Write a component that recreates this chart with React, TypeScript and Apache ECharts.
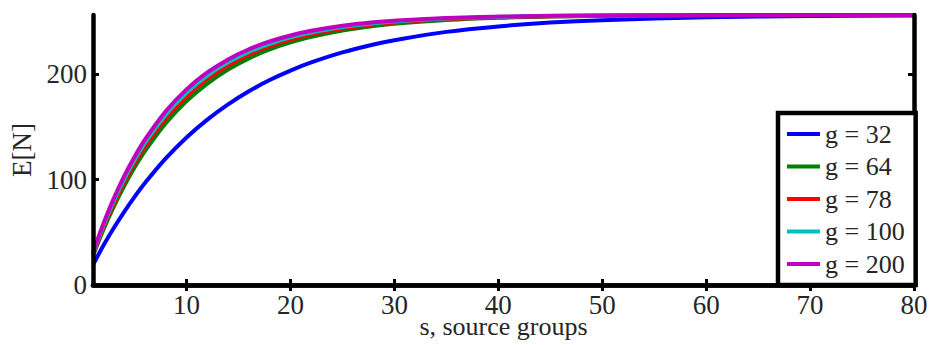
import React, { useEffect, useRef } from "react";
import * as echarts from "echarts";

const sValues = [1, 2, 3, 4, 5, 6, 8, 10, 12, 14, 16, 18, 20, 22, 25, 28, 30, 35, 40, 45, 50, 60, 70, 80];
const g32 = [19, 37.4, 54, 69.4, 83.6, 96.7, 120, 139.9, 156.8, 171.3, 183.7, 194.3, 203.3, 211, 220.5, 228, 232, 240, 245.2, 248.8, 251.1, 253.8, 255, 255.5];
const g64 = [27.6, 52.3, 74.3, 93.9, 111.4, 127.0, 153.4, 174.4, 191.0, 204.3, 214.9, 223.3, 230.0, 235.3, 241.3, 245.6, 247.7, 251.3, 253.4, 254.5, 255.2, 255.7, 255.9, 256];
const g78 = [28.9, 54.6, 77.3, 97.5, 115.5, 131.3, 157.9, 178.8, 195.3, 208.2, 218.4, 226.4, 232.7, 237.7, 243.2, 247.1, 249.0, 252.2, 253.9, 254.8, 255.4, 255.8, 255.95, 256];
const g100 = [30.0, 56.4, 79.7, 100.4, 118.6, 134.7, 161.4, 182.2, 198.5, 211.1, 221.0, 228.7, 234.8, 239.4, 244.6, 248.1, 249.9, 252.7, 254.2, 255.1, 255.5, 255.9, 256, 256];
const g200 = [31.0, 58.2, 82.1, 103.2, 121.7, 137.9, 164.8, 185.5, 201.5, 213.9, 223.5, 230.9, 236.6, 241.0, 245.8, 249.1, 250.6, 253.2, 254.5, 255.2, 255.6, 255.9, 256, 256];

const seriesNames = ["g = 32", "g = 64", "g = 78", "g = 100", "g = 200"];
const seriesColors = ["#0000ff", "#008000", "#ff0000", "#00bfbf", "#bf00bf"];
const seriesData = [g32, g64, g78, g100, g200];

const xTicks = [10, 20, 30, 40, 50, 60, 70, 80];
const yTicks = [0, 100, 200];
const xMin = 1;
const xMax = 80;
const yMin = 0;
const yMax = 256;

const FONT = "'Liberation Serif', 'Times New Roman', 'DejaVu Serif', serif";
const TEXT_COLOR = "#262626";

export default function App() {
  const ref = useRef<HTMLDivElement>(null);
  useEffect(() => {
    if (!ref.current) return;
    const chart = echarts.init(ref.current, null, { renderer: "svg" });
    const axisLine = { show: true, lineStyle: { color: "#000", width: 4.5 } };
    const tick = (vals: number[]) => ({
      show: true,
      inside: true,
      length: 6,
      customValues: vals,
      lineStyle: { color: "#000", width: 3 },
    });
    const option: any = {
      animation: false,
      backgroundColor: "#fff",
      textStyle: { fontFamily: FONT },
      grid: {
        left: 93,
        right: 17,
        top: 15,
        bottom: 60,
        containLabel: false,
        outerBoundsMode: "none",
      },
      xAxis: [
        {
          type: "value",
          min: xMin,
          max: xMax,
          position: "bottom",
          z: 10,
          axisLine,
          axisTick: tick(xTicks),
          splitLine: { show: false },
          axisLabel: {
            customValues: xTicks,
            margin: 6,
            fontFamily: FONT,
            fontSize: 27,
            color: TEXT_COLOR,
          },
          name: "s, source groups",
          nameLocation: "middle",
          nameGap: 28,
          nameMoveOverlap: false,
          nameTextStyle: { fontFamily: FONT, fontSize: 26, color: TEXT_COLOR },
        },
        {
          type: "value",
          min: xMin,
          max: xMax,
          position: "top",
          z: 10,
          axisLine,
          axisTick: tick(xTicks),
          splitLine: { show: false },
          axisLabel: { show: false },
        },
      ],
      yAxis: [
        {
          type: "value",
          min: yMin,
          max: yMax,
          position: "left",
          z: 10,
          axisLine,
          axisTick: tick(yTicks),
          splitLine: { show: false },
          axisLabel: {
            customValues: yTicks,
            margin: 6,
            fontFamily: FONT,
            fontSize: 27,
            color: TEXT_COLOR,
          },
          name: "E[N]",
          nameLocation: "middle",
          nameGap: 53,
          nameRotate: 90,
          nameTextStyle: { fontFamily: FONT, fontSize: 27, color: TEXT_COLOR },
        },
        {
          type: "value",
          min: yMin,
          max: yMax,
          position: "right",
          z: 10,
          axisLine,
          axisTick: tick(yTicks),
          splitLine: { show: false },
          axisLabel: { show: false },
        },
      ],
      legend: {
        show: true,
        orient: "vertical",
        left: 778,
        top: 113,
        itemWidth: 33,
        itemHeight: 4,
        itemGap: 6.5,
        icon: "rect",
        padding: [8, 11, 8, 9],
        borderColor: "#000",
        borderWidth: 4.5,
        backgroundColor: "#fff",
        z: 20,
        textStyle: { fontFamily: FONT, fontSize: 26, color: TEXT_COLOR, lineHeight: 26 },
        data: seriesNames,
      },
      series: seriesNames.map((name, i) => ({
        name,
        type: "line",
        xAxisIndex: 0,
        yAxisIndex: 0,
        data: sValues.map((s, j) => [s, seriesData[i][j]]),
        showSymbol: false,
        symbol: "none",
        smooth: 0.35,
        lineStyle: { color: seriesColors[i], width: 4 },
        itemStyle: { color: seriesColors[i] },
        z: 2 + i * 0.1,
      })),
    };
    chart.setOption(option);
    return () => chart.dispose();
  }, []);
  return (
    <div
      ref={ref}
      style={{ position: "absolute", left: 0, top: 0, width: 931, height: 345 }}
    />
  );
}
